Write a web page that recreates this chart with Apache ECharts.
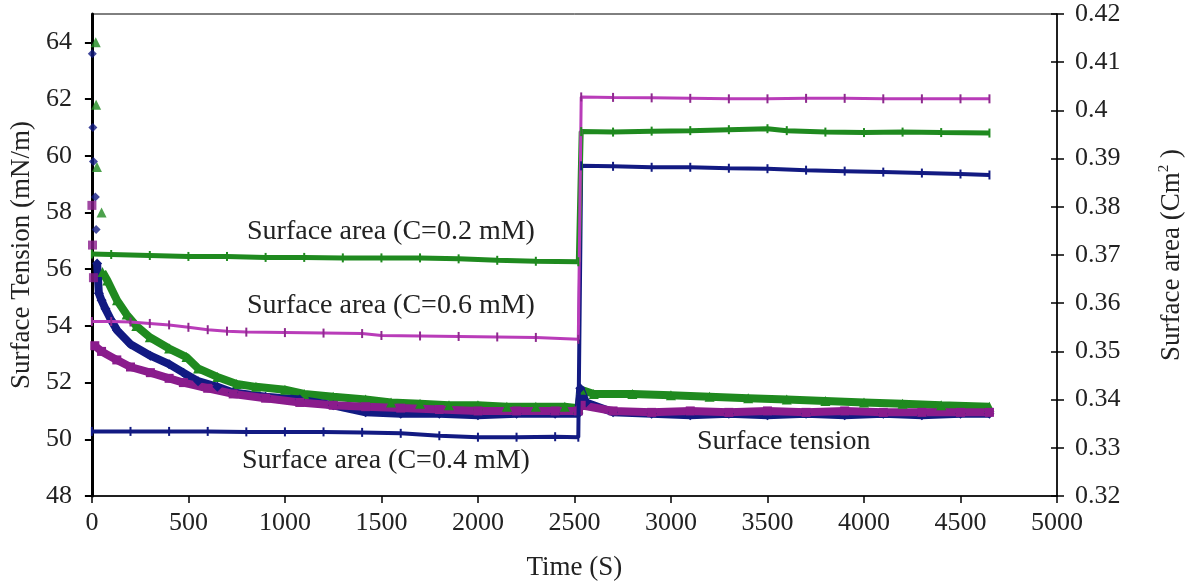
<!DOCTYPE html>
<html>
<head>
<meta charset="utf-8">
<script src="https://cdn.jsdelivr.net/npm/echarts@6/dist/echarts.min.js"></script>
<style>html,body{margin:0;padding:0;background:#fff}#c{width:1193px;height:587px}</style>
</head>
<body>
<div id="c"></div>
<script>
// ---- data (time in s) ----
var xTicks = [0, 5000, 500];          // min, max, interval
var stTicks = [48, 65, 2];
var areaTicks = [0.32, 0.42, 0.01];

// Surface tension (mN/m) – early sparse points and dense curve
var stGreenEarly = [[20,64.0],[22,61.8],[26,59.6],[50,58.0]];
var stGreen = [[55,55.9],[80,55.6],[130,54.9],[180,54.4],[230,54.0],[300,53.6],[400,53.2],[490,52.9],[550,52.5],[650,52.2],[750,51.95],[850,51.85],[1000,51.75],[1100,51.6],[1250,51.5],[1418,51.4],[1550,51.3],[1700,51.25],[1850,51.2],[2000,51.2],[2150,51.15],[2300,51.15],[2450,51.15],[2520,51.1],[2535,51.75],[2600,51.6],[2800,51.6],[3000,51.55],[3200,51.5],[3400,51.45],[3600,51.4],[3800,51.35],[4000,51.3],[4200,51.25],[4400,51.2],[4650,51.15]];

var stNavyEarly = [[2,63.6],[5,61.0],[8,59.8],[18,58.55],[22,57.4]];
var stNavy = [[27,56.2],[36,55.15],[50,54.9],[70,54.6],[100,54.2],[130,53.85],[200,53.35],[303,52.95],[400,52.65],[474,52.35],[550,52.05],[650,51.85],[732,51.65],[900,51.5],[1077,51.4],[1250,51.2],[1418,50.95],[1600,50.9],[1800,50.9],[2000,50.85],[2200,50.9],[2400,50.9],[2520,50.9],[2530,51.8],[2560,51.3],[2700,50.95],[2900,50.9],[3100,50.85],[3300,50.9],[3500,50.85],[3700,50.9],[3900,50.85],[4100,50.9],[4300,50.85],[4500,50.9],[4650,50.9]];

var stPurpleEarly = [[0,58.25],[3,56.85],[8,55.7]];
var stPurple = [[15,53.3],[50,53.1],[129,52.8],[200,52.55],[303,52.35],[400,52.15],[474,52.0],[600,51.8],[732,51.6],[900,51.45],[1077,51.3],[1250,51.2],[1418,51.15],[1600,51.1],[1800,51.05],[2000,51.0],[2200,51.0],[2400,51.0],[2520,51.0],[2535,51.2],[2700,51.0],[2900,50.95],[3100,51.0],[3300,50.95],[3500,51.0],[3700,50.95],[3900,51.0],[4100,50.95],[4300,50.95],[4500,50.95],[4650,50.95]];

// Surface area (cm^2)
var areaGreen = [[0,0.3702],[100,0.3701],[300,0.3699],[500,0.3697],[700,0.3697],[900,0.3695],[1100,0.3695],[1300,0.3694],[1500,0.3694],[1700,0.3694],[1900,0.3692],[2100,0.3689],[2300,0.3687],[2520,0.3686],[2535,0.3956],[2700,0.3955],[2900,0.3957],[3100,0.3958],[3300,0.3960],[3500,0.3962],[3600,0.3958],[3800,0.3955],[4000,0.3954],[4200,0.3955],[4400,0.3954],[4650,0.3953]];
var areaPurple = [[0,0.3562],[100,0.3562],[200,0.3561],[300,0.3558],[400,0.3555],[500,0.3550],[600,0.3545],[700,0.3542],[800,0.3540],[1000,0.3539],[1200,0.3538],[1400,0.3537],[1500,0.3533],[1700,0.3532],[1900,0.3531],[2100,0.3530],[2300,0.3529],[2520,0.3525],[2535,0.4028],[2700,0.4027],[2900,0.4026],[3100,0.4025],[3300,0.4024],[3500,0.4024],[3700,0.4025],[3900,0.4025],[4100,0.4024],[4300,0.4024],[4500,0.4024],[4650,0.4024]];
var areaNavy = [[0,0.3334],[200,0.3334],[400,0.3334],[600,0.3334],[800,0.3333],[1000,0.3333],[1200,0.3333],[1400,0.3332],[1600,0.3330],[1800,0.3325],[2000,0.3322],[2200,0.3322],[2400,0.3323],[2520,0.3322],[2535,0.3885],[2700,0.3884],[2900,0.3882],[3100,0.3882],[3300,0.3880],[3500,0.3879],[3700,0.3876],[3900,0.3874],[4100,0.3872],[4300,0.3870],[4500,0.3868],[4650,0.3866]];

var labels = {
  a02: 'Surface area (C=0.2 mM)',
  a06: 'Surface area (C=0.6 mM)',
  a04: 'Surface area (C=0.4 mM)',
  st: 'Surface tension'
};

// ---- styles ----
var FONT = '"Liberation Serif","DejaVu Serif",serif';
var GREEN = '#1f8a1f', NAVY = '#121a82', PURPLE = '#8a1c8c', AREAPURPLE = '#8e2a8e', MAGENTA = '#b93cb9';

var chart = echarts.init(document.getElementById('c'), null, {renderer: 'canvas'});

function stLine(data, color, symbol, size) {
  return {type: 'line', yAxisIndex: 0, data: data, symbol: symbol, symbolSize: size, showSymbol: true,
    lineStyle: {color: color, width: 8}, itemStyle: {color: color}, animation: false, z: 3};
}
function stScatter(data, color, symbol, size) {
  return {type: 'scatter', yAxisIndex: 0, data: data, symbol: symbol, symbolSize: size,
    itemStyle: {color: color}, animation: false, z: 3};
}
function areaLine(data, lineColor, markColor, width) {
  return {type: 'line', yAxisIndex: 1, data: data, symbol: 'rect', symbolSize: [2, 9], showSymbol: true,
    lineStyle: {color: lineColor, width: width}, itemStyle: {color: markColor}, animation: false, z: 4};
}

var axisFont = {fontFamily: FONT, fontSize: 26, color: '#222'};

chart.setOption({
  backgroundColor: '#fff',
  grid: {left: 88, right: 135, top: 14, bottom: 91, show: true, borderColor: '#000', borderWidth: 1, containLabel: false},
  xAxis: {
    type: 'value', min: xTicks[0], max: xTicks[1], interval: xTicks[2],
    name: 'Time (S)', nameLocation: 'middle', nameGap: 58,
    nameTextStyle: {fontFamily: FONT, fontSize: 27, color: '#222'},
    axisLine: {lineStyle: {color: '#000', width: 1.5}},
    axisTick: {inside: false, length: 7, lineStyle: {color: '#000', width: 1.5}},
    axisLabel: Object.assign({margin: 14, formatter: function (v) { return String(v); }}, axisFont),
    splitLine: {show: false}
  },
  yAxis: [
    {
      type: 'value', position: 'left', min: stTicks[0], max: stTicks[1], interval: stTicks[2],
      name: 'Surface Tension (mN/m)', nameLocation: 'middle', nameGap: 56, nameRotate: 90,
      nameTextStyle: {fontFamily: FONT, fontSize: 27, color: '#222'},
      axisLine: {show: true, lineStyle: {color: '#000', width: 3}},
      axisTick: {show: true, inside: false, length: 7, lineStyle: {color: '#000', width: 2}},
      axisLabel: Object.assign({margin: 20, showMaxLabel: false}, axisFont),
      splitLine: {show: false}
    },
    {
      type: 'value', position: 'right', min: areaTicks[0], max: areaTicks[1], interval: areaTicks[2],
      name: 'Surface area (Cm{sup|2} )', nameLocation: 'middle', nameGap: 100, nameRotate: 90,
      nameTextStyle: {fontFamily: FONT, fontSize: 27, color: '#222',
        rich: {sup: {fontFamily: FONT, fontSize: 15, color: '#222', verticalAlign: 'top', padding: [0, 0, 14, 0]}}},
      axisLine: {show: true, lineStyle: {color: '#000', width: 1.5}},
      axisTick: {show: true, inside: false, length: 7, lineStyle: {color: '#000', width: 1.5}},
      axisLabel: Object.assign({margin: 18, formatter: function (v) { return String(parseFloat(v.toFixed(2))); }}, axisFont),
      splitLine: {show: false}
    },
    {
      type: 'value', position: 'right', min: areaTicks[0], max: areaTicks[1], interval: areaTicks[2],
      axisLine: {show: false}, axisLabel: {show: false},
      axisTick: {show: true, inside: true, length: 6, lineStyle: {color: '#000', width: 1.5}},
      splitLine: {show: false}
    }
  ],
  series: [
    stLine(stGreen, GREEN, 'triangle', 10),
    stLine(stNavy, NAVY, 'diamond', 10),
    stLine(stPurple, PURPLE, 'rect', 9),
    stScatter(stGreenEarly, GREEN, 'triangle', 10),
    stScatter(stNavyEarly, NAVY, 'diamond', 9),
    stScatter(stPurpleEarly, PURPLE, 'rect', 9),
    areaLine(areaNavy, NAVY, NAVY, 4),
    areaLine(areaGreen, GREEN, GREEN, 5),
    areaLine(areaPurple, MAGENTA, AREAPURPLE, 3)
  ],
  graphic: [
    {type: 'text', left: 247, top: 218, style: {text: labels.a02, font: '28px ' + FONT, fill: '#222'}},
    {type: 'text', left: 247, top: 292, style: {text: labels.a06, font: '28px ' + FONT, fill: '#222'}},
    {type: 'text', left: 242, top: 447, style: {text: labels.a04, font: '28px ' + FONT, fill: '#222'}},
    {type: 'text', left: 697, top: 428, style: {text: labels.st, font: '28px ' + FONT, fill: '#222'}}
  ]
});
</script>
</body>
</html>
